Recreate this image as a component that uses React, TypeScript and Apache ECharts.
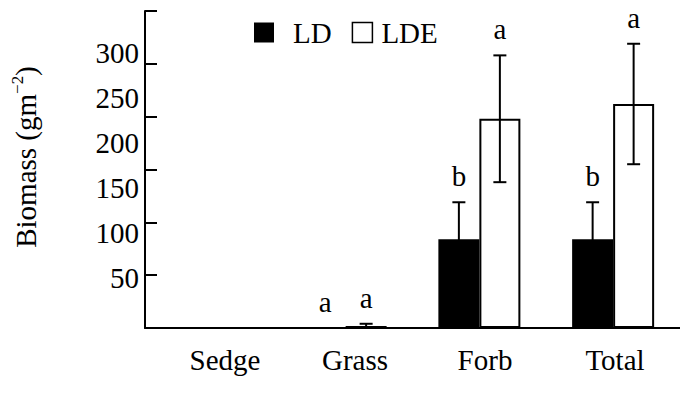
import React, { useEffect, useRef } from "react";
import * as echarts from "echarts";

// ---- data ----
const categories = ["Sedge", "Grass", "Forb", "Total"];
const seriesNames = ["LD", "LDE"];
const ldMeans = [0, 0, 84, 84];
const ldeMeans = [0, 2, 198, 212];
const ldErrors = [0, 0, 35, 35];
const ldeErrors = [0, 2, 60, 57];
const ldLetters = ["", "a", "b", "b"];
const ldeLetters = ["", "a", "a", "a"];
const yTickValues = [50, 100, 150, 200, 250, 300];
const yAxisTitle = "Biomass (gm";
const yAxisTitleSup = "−2";

// ---- style ----
const FONT = "'Liberation Serif', 'Times New Roman', serif";
const FS = 29;
const BAR_W = 41;
const CAP_W = 13;
const LETTER_GAP = 26;

export default function App() {
  const ref = useRef<HTMLDivElement>(null);

  useEffect(() => {
    if (!ref.current) return;
    const chart = echarts.init(ref.current, null, { renderer: "svg" });

    const errItems: { cat: number; mean: number; err: number; side: number; letter: string }[] = [];
    categories.forEach((_, i) => {
      errItems.push({ cat: i, mean: ldMeans[i], err: ldErrors[i], side: 0, letter: ldLetters[i] });
      errItems.push({ cat: i, mean: ldeMeans[i], err: ldeErrors[i], side: 1, letter: ldeLetters[i] });
    });

    const option: any = {
      animation: false,
      backgroundColor: "#fff",
      textStyle: { fontFamily: FONT, color: "#000" },
      grid: [
        { left: 145, right: 0, top: 11, bottom: 67 },
        { left: 160, right: -15, top: 11, bottom: 67 },
        { left: 145, right: 0, top: 11, bottom: 67 },
      ],
      legend: {
        left: 249,
        top: 13,
        itemWidth: 20,
        itemHeight: 20,
        itemGap: 20,
        textStyle: { fontFamily: FONT, fontSize: FS, color: "#000" },
        data: [
          { name: seriesNames[0], icon: "rect", textStyle: { padding: [0, 0, 0, 14] } },
          {
            name: seriesNames[1],
            icon: "rect",
            itemStyle: { color: "#fff", borderColor: "#000", borderWidth: 1.5 },
            textStyle: { padding: [0, 0, 0, 4] },
          },
        ],
      },
      xAxis: [
        {
          type: "category",
          gridIndex: 0,
          data: categories,
          axisLine: { lineStyle: { color: "#000", width: 2 } },
          axisTick: { inside: true, length: 10, lineStyle: { color: "#000", width: 2 } },
          axisLabel: { show: false },
        },
        {
          type: "category",
          gridIndex: 1,
          data: categories,
          axisLine: { show: false },
          axisTick: { show: false },
          axisLabel: { fontFamily: FONT, fontSize: FS, color: "#000", margin: 17 },
        },
        { type: "value", gridIndex: 2, show: false },
      ],
      yAxis: [
        {
          type: "value",
          gridIndex: 0,
          min: 0,
          max: 300,
          interval: 50,
          axisLine: { show: true, lineStyle: { color: "#000", width: 2 } },
          axisTick: { show: true, inside: true, length: 12, lineStyle: { color: "#000", width: 2 } },
          axisLabel: { show: false },
          splitLine: { show: false },
        },
        { type: "value", gridIndex: 1, show: false },
        {
          type: "value",
          gridIndex: 2,
          min: -5.56,
          max: 346.7,
          axisLine: { show: false },
          axisTick: { show: false },
          splitLine: { show: false },
          axisLabel: {
            customValues: yTickValues,
            fontFamily: FONT,
            fontSize: FS,
            color: "#000",
            margin: 6,
          },
        },
      ],
      graphic: [
        {
          type: "text",
          x: 26,
          y: 157,
          rotation: Math.PI / 2,
          style: {
            text: `{a|${yAxisTitle}}{s|${yAxisTitleSup}}{a|)}`,
            align: "center",
            verticalAlign: "middle",
            rich: {
              a: { fontFamily: FONT, fontSize: FS, fill: "#000", lineHeight: 34, verticalAlign: "middle" },
              s: { fontFamily: FONT, fontSize: 17, fill: "#000", lineHeight: 18, verticalAlign: "top" },
            },
          },
        },
      ],
      series: [
        {
          name: seriesNames[0],
          type: "bar",
          xAxisIndex: 0,
          yAxisIndex: 0,
          data: ldMeans,
          barWidth: BAR_W,
          barGap: "0%",
          itemStyle: { color: "#000" },
        },
        {
          name: seriesNames[1],
          type: "bar",
          xAxisIndex: 0,
          yAxisIndex: 0,
          data: ldeMeans,
          barWidth: BAR_W,
          barGap: "0%",
          itemStyle: { color: "#fff", borderColor: "#000", borderWidth: 2 },
        },
        {
          type: "custom",
          xAxisIndex: 0,
          yAxisIndex: 0,
          clip: false,
          z: 5,
          data: errItems.map((e) => [e.cat, e.mean, e.err, e.side]),
          encode: { x: 0, y: 1 },
          renderItem: (params: any, api: any) => {
            const it = errItems[params.dataIndex];
            const cx = api.coord([it.cat, 0])[0] + (it.side === 0 ? -1 : 1) * (BAR_W / 2);
            const yTop = api.coord([it.cat, it.mean + it.err])[1];
            const yBot = api.coord([it.cat, Math.max(0, it.mean - it.err)])[1];
            const ls = { stroke: "#000", lineWidth: 2 };
            const children: any[] = [];
            if (it.err > 0) {
              children.push({ type: "line", shape: { x1: cx, y1: yTop, x2: cx, y2: yBot }, style: ls });
              children.push({ type: "line", shape: { x1: cx - CAP_W / 2, y1: yTop, x2: cx + CAP_W / 2, y2: yTop }, style: ls });
              children.push({ type: "line", shape: { x1: cx - CAP_W / 2, y1: yBot, x2: cx + CAP_W / 2, y2: yBot }, style: ls });
            }
            if (it.letter) {
              children.push({
                type: "text",
                x: cx,
                y: yTop - LETTER_GAP,
                style: {
                  text: it.letter,
                  fontFamily: FONT,
                  fontSize: FS,
                  fill: "#000",
                  align: "center",
                  verticalAlign: "middle",
                },
              });
            }
            return { type: "group", children };
          },
        },
      ],
    };

    chart.setOption(option);
    return () => chart.dispose();
  }, []);

  return (
    <div
      ref={ref}
      style={{ position: "fixed", left: 0, top: 0, width: 680, height: 395, background: "#fff" }}
    />
  );
}
